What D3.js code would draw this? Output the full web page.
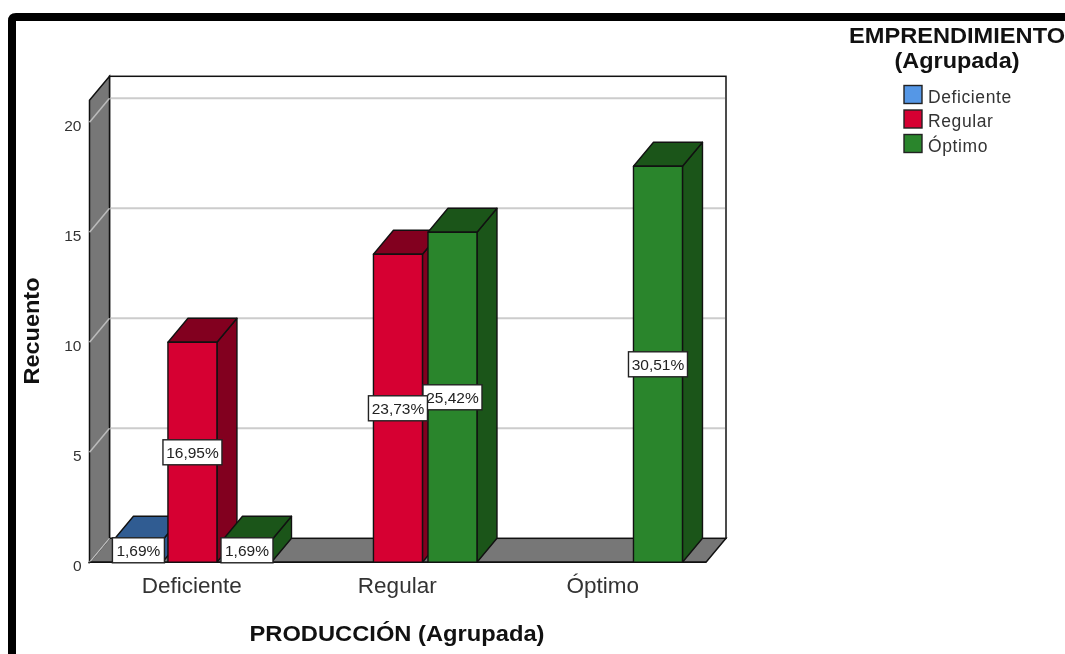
<!DOCTYPE html>
<html><head><meta charset="utf-8">
<script src="https://cdnjs.cloudflare.com/ajax/libs/d3/7.8.5/d3.min.js"></script>
<style>html,body{margin:0;padding:0;background:#fff}svg{display:block;filter:blur(0.35px)}text{font-family:"Liberation Sans",Arial,sans-serif}</style>
</head><body><svg id="c" width="1065" height="654"></svg>
<script>
const categories = ["Deficiente","Regular","Óptimo"];
const seriesNames = ["Deficiente","Regular","Óptimo"];
const deficienteValues = [1,0,0];
const regularValues = [10,14,0];
const optimoValues = [1,15,18];
const deficienteLabels = ["1,69%","",""];
const regularLabels = ["16,95%","23,73%",""];
const optimoLabels = ["1,69%","25,42%","30,51%"];
const yTicks = [0,5,10,15,20];
const frontColors = ["#5597e6","#d60032","#2a852c"];
const topColors = ["#305c92","#82001f","#1b5519"];
const sideColors = ["#305c92","#82001f","#1b5519"];

const svg = d3.select("#c");
const dx = 20, dy = -24;
const x = d3.scaleBand().domain(categories).range([89.5,706]);
const s = d3.scaleBand().domain(seriesNames).range([-80,80]).paddingInner(0);
const y = d3.scaleLinear().domain([0,21]).range([562.3,100.3]);
const pts = a => a.map(p=>p.join(",")).join(" ");

// frame
svg.append("path").attr("d","M12,654 V21 Q12,17 16,17 H1065").attr("fill","none").attr("stroke","#000").attr("stroke-width",8);

// walls
const x0=x.range()[0], x1=x.range()[1], y0=y(0), yT=y(21);
svg.append("polygon").attr("points",pts([[x0,y0],[x0+dx,y0+dy],[x1+dx,y0+dy],[x1,y0]])).attr("fill","#777").attr("stroke","#111").attr("stroke-width",1.5);
svg.append("rect").attr("x",x0+dx).attr("y",yT+dy).attr("width",x1-x0).attr("height",y0-yT).attr("fill","#fff").attr("stroke","#111").attr("stroke-width",1.5);
svg.append("polygon").attr("points",pts([[x0,yT],[x0+dx,yT+dy],[x0+dx,y0+dy],[x0,y0]])).attr("fill","#777").attr("stroke","#111").attr("stroke-width",1.5);

// grid
yTicks.forEach(t=>{
  svg.append("line").attr("x1",x0).attr("x2",x0+dx).attr("y1",y(t)).attr("y2",y(t)+dy).attr("stroke","#bbb").attr("stroke-width",1.5);
  if(t>0) svg.append("line").attr("x1",x0+dx+1).attr("x2",x1+dx-1).attr("y1",y(t)+dy).attr("y2",y(t)+dy).attr("stroke","#ccc").attr("stroke-width",2);
});
svg.append("line").attr("x1",x0).attr("x2",x1).attr("y1",y0).attr("y2",y0).attr("stroke","#111").attr("stroke-width",1.5);

// axes
const gy = svg.append("g").attr("transform",`translate(${x0-1},2.5)`).call(d3.axisLeft(y).tickValues(yTicks).tickSize(0).tickPadding(7));
gy.select(".domain").remove();
gy.selectAll("text").attr("font-size",15.5).attr("fill","#333").style("font-family",'"Liberation Sans"').attr("dy","0.36em");
const gx = svg.append("g").attr("transform",`translate(-0.5,${y0+2})`).call(d3.axisBottom(x).tickSize(0).tickPadding(13));
gx.select(".domain").remove();
gx.selectAll("text").attr("font-size",22.5).attr("fill","#333").style("font-family",'"Liberation Sans"');

// bars
const table = [deficienteValues,regularValues,optimoValues];
const labels = [deficienteLabels,regularLabels,optimoLabels];
const bw = 49;
const bars=[];
categories.forEach((c,ci)=>seriesNames.forEach((n,si)=>{
  if(table[si][ci]>0) bars.push({c,n,si,v:table[si][ci],lab:labels[si][ci]});
}));
const bx = d => x(d.c)+x.bandwidth()/2+s(d.n)+s.bandwidth()/2-bw/2 + (d.si-1)*1.2 + 0.2;
const g = svg.append("g").attr("stroke","#111").attr("stroke-width",1.4).attr("stroke-linejoin","round");
bars.forEach(d=>{
  const l=bx(d), r=l+bw, t=y(d.v), b=y(0);
  g.append("polygon").attr("points",pts([[r,t],[r+dx,t+dy],[r+dx,b+dy],[r,b]])).attr("fill",sideColors[d.si]);
  g.append("polygon").attr("points",pts([[l,t],[l+dx,t+dy],[r+dx,t+dy],[r,t]])).attr("fill",topColors[d.si]);
  g.append("rect").attr("x",l).attr("y",t).attr("width",bw).attr("height",b-t).attr("fill",frontColors[d.si]);
});

// value labels (drawn last series first: the reference stacks earlier series on top)
bars.slice().sort((a,b)=>b.si-a.si).forEach(d=>{
  const cx=bx(d)+bw/2, cy=(y(d.v)+y(0))/2;
  const w = d.lab.length>5?59:52, h=25;
  const ly = d.v===1 ? y(0)-12 : cy;
  const lx = d.si===0 ? cx+0.5 : cx;
  svg.append("rect").attr("x",lx-w/2).attr("y",ly-h/2).attr("width",w).attr("height",h).attr("fill","#fff").attr("stroke","#222").attr("stroke-width",1.4);
  svg.append("text").attr("x",lx).attr("y",ly+5.5).attr("text-anchor","middle").attr("font-size",15.5).attr("fill","#222").text(d.lab);
});

// titles
svg.append("text").attr("x",397).attr("y",641).attr("text-anchor","middle").attr("font-size",22).attr("font-weight","bold").attr("fill","#111").attr("textLength",295).attr("lengthAdjust","spacingAndGlyphs").text("PRODUCCIÓN (Agrupada)");
svg.append("text").attr("transform","translate(38.5,331) rotate(-90)").attr("text-anchor","middle").attr("font-size",22).attr("font-weight","bold").attr("fill","#111").attr("textLength",107).attr("lengthAdjust","spacingAndGlyphs").text("Recuento");

// legend
svg.append("text").attr("x",957).attr("y",43).attr("text-anchor","middle").attr("font-size",22).attr("font-weight","bold").attr("fill","#111").attr("textLength",216).attr("lengthAdjust","spacingAndGlyphs").text("EMPRENDIMIENTO");
svg.append("text").attr("x",957).attr("y",68).attr("text-anchor","middle").attr("font-size",22).attr("font-weight","bold").attr("fill","#111").attr("textLength",125).attr("lengthAdjust","spacingAndGlyphs").text("(Agrupada)");
seriesNames.forEach((n,i)=>{
  const ly=85.5+i*24.5;
  svg.append("rect").attr("x",904).attr("y",ly).attr("width",18).attr("height",18).attr("fill",frontColors[i]).attr("stroke","#222").attr("stroke-width",1.4);
  svg.append("text").attr("x",928).attr("y",ly+17).attr("font-size",17.5).attr("fill","#333").style("letter-spacing","0.6px").text(n);
});
</script></body></html>
